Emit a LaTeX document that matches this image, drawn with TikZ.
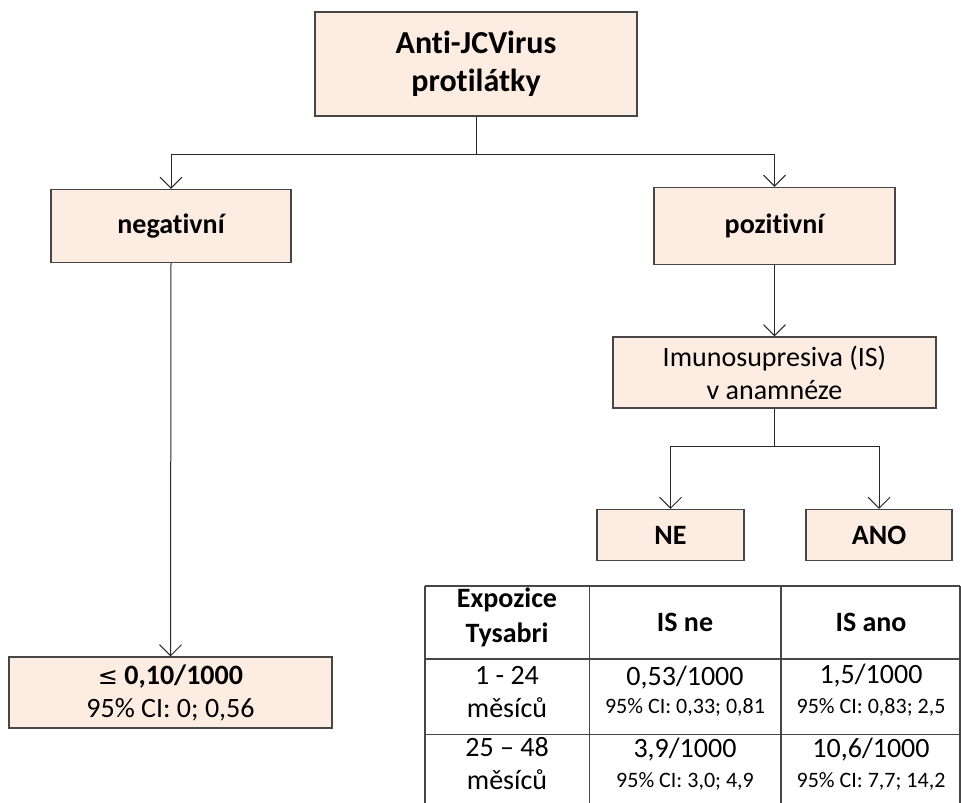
\documentclass[tikz,border=0pt]{standalone}
\usepackage{fontspec}
\setmainfont{Carlito}[Ligatures={NoCommon}]
\newfontfamily\djv{DejaVu Sans}
\usetikzlibrary{arrows.meta}
\definecolor{boxfill}{RGB}{252,236,225}
\definecolor{boxline}{RGB}{70,70,70}
\definecolor{conn}{RGB}{40,40,40}
\newcommand\txtT{\fontsize{32}{38}\selectfont\bfseries}
\newcommand\txtB{\fontsize{28}{35}\selectfont\bfseries}
\newcommand\txtR{\fontsize{28}{33}\selectfont}
\newcommand\txtS{\fontsize{22}{26}\selectfont}
\begin{document}
\begin{tikzpicture}[x=1pt,y=-1pt,
  box/.style={draw=boxline, fill=boxfill, line width=1.2pt, inner sep=0pt, align=center},
  arr/.style={draw=conn, line width=1pt, -{Straight Barb[length=11pt,width=22pt,line width=1pt]}},
  ln/.style={draw=conn, line width=1pt},
  tline/.style={draw=boxline, line width=1.3pt},
  cell/.style={inner sep=0pt, align=center}]
\useasboundingbox (0,0) rectangle (961,803);

% boxes
\node[box, minimum width=322pt, minimum height=104pt, font=\txtT] (top) at (476,64) {Anti-JCVirus\\protilátky};
\node[box, minimum width=240pt, minimum height=73pt, font=\txtB] (neg) at (171,226) {negativní};
\node[box, minimum width=241pt, minimum height=77pt, font=\txtB] (pos) at (774.5,226) {pozitivní};
\node[box, minimum width=323pt, minimum height=71pt, font=\txtR] (is) at (774.5,372.5) {Imunosupresiva (IS)\\v anamnéze};
\node[box, minimum width=147pt, minimum height=51pt, font=\txtB] (ne) at (670.5,535) {NE};
\node[box, minimum width=146pt, minimum height=51pt, font=\txtB] (ano) at (879,535) {ANO};
\node[box, minimum width=323pt, minimum height=71pt, font=\txtR] (res) at (170.5,692.5) {{\djv\fontsize{24}{30}\selectfont ≤} \textbf{0,10/1000}\\95\% CI: 0; 0,56};

% connectors
\coordinate (split1) at (476,154);
\coordinate (split2) at (774.5,446);
\draw[ln] (top.south) -- (split1);
\draw[arr] (split1) -| (neg.north);
\draw[arr] (split1) -| (pos.north);
\draw[arr] (pos.south) -- (is.north);
\draw[ln] (is.south) -- (split2);
\draw[arr] (split2) -| (ne.north);
\draw[arr] (split2) -| (ano.north);
\draw[arr] (neg.south) -- (res.north);

% table
\draw[tline] (425,586) -- (960,586);
\draw[tline] (425,659) -- (960,659);
\draw[tline] (425,734.5) -- (960,734.5);
\draw[tline] (425,586) -- (425,803);
\draw[tline] (589.5,586) -- (589.5,803);
\draw[tline] (781,586) -- (781,803);
\draw[tline] (960,586) -- (960,803);

\node[cell, font=\txtB] (h1) at (507,617.5) {Expozice\\Tysabri};
\node[cell, font=\txtB] (h2) at (685,622) {IS ne};
\node[cell, font=\txtB] (h3) at (871,622) {IS ano};

\node[cell, font=\txtR] (r1c1) at (507,692) {1 - 24\\měsíců};
\node[cell, font=\txtR] (r1a) at (685,678) {0,53/1000};
\node[cell, font=\txtS] (r1b) at (685,707) {95\% CI: 0,33; 0,81};
\node[cell, font=\txtR] (r1c) at (871,676) {1,5/1000};
\node[cell, font=\txtS] (r1d) at (871,707) {95\% CI: 0,83; 2,5};

\node[cell, font=\txtR] (r2c1) at (507,764) {25 – 48\\měsíců};
\node[cell, font=\txtR] (r2a) at (685,750) {3,9/1000};
\node[cell, font=\txtS] (r2b) at (685,781) {95\% CI: 3,0; 4,9};
\node[cell, font=\txtR] (r2c) at (871,750) {10,6/1000};
\node[cell, font=\txtS] (r2d) at (871,781) {95\% CI: 7,7; 14,2};
\end{tikzpicture}
\end{document}
